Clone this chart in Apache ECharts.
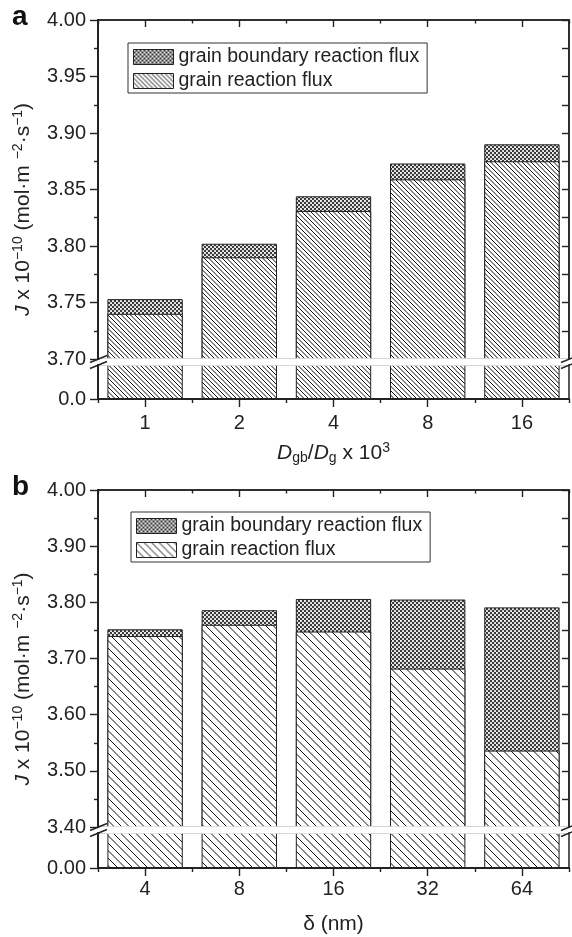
<!DOCTYPE html>
<html><head><meta charset="utf-8">
<script src="https://cdn.jsdelivr.net/npm/echarts@6/dist/echarts.min.js"></script>
<style>html,body{margin:0;padding:0;background:#fff}#c{width:572px;height:937px}</style>
</head><body><div id="c"></div>
<script>
// ---------- data ----------
const catsA = ['1', '2', '4', '8', '16'];
const grainA = [3.740, 3.790, 3.831, 3.859, 3.875];
const totalA = [3.753, 3.802, 3.844, 3.873, 3.890];
const catsB = ['4', '8', '16', '32', '64'];
const grainB = [3.740, 3.760, 3.748, 3.682, 3.536];
const totalB = [3.752, 3.786, 3.806, 3.805, 3.791];
const yRangeA = [3.70, 4.00, 0.05];
const yRangeB = [3.40, 4.00, 0.10];
const nameGB = 'grain boundary reaction flux';
const nameG = 'grain reaction flux';

// ---------- layout ----------
const FONT = 'Liberation Sans, Arial, Helvetica, sans-serif';
const INK = '#222';
const L = 98, W = 471;
const GA_UP = {top: 20, height: 339}, GA_LO = {top: 365, height: 34};
const GB_UP = {top: 490, height: 337}, GB_LO = {top: 833, height: 35};

// ---------- patterns ----------
function hatch(period, lw) {
  const n = period * 2;
  const c = document.createElement('canvas');
  c.width = n; c.height = n;
  const g = c.getContext('2d');
  g.fillStyle = '#fff'; g.fillRect(0, 0, n, n);
  g.strokeStyle = '#111'; g.lineWidth = lw;
  for (let k = -n; k <= n; k += period) {
    g.beginPath(); g.moveTo(k, 0); g.lineTo(k + n, n); g.stroke();
  }
  return {image: c, repeat: 'repeat'};
}
function cross(s) {
  const c = document.createElement('canvas');
  c.width = s; c.height = s;
  const g = c.getContext('2d');
  g.fillStyle = '#3a3a3a'; g.fillRect(0, 0, s, s);
  g.fillStyle = '#fff';
  g.beginPath(); g.arc(s / 4, s / 4, s / 3.8, 0, Math.PI * 2); g.fill();
  g.beginPath(); g.arc(3 * s / 4, 3 * s / 4, s / 3.8, 0, Math.PI * 2); g.fill();
  return {image: c, repeat: 'repeat'};
}
const hatchA = hatch(4.5, 1);
const hatchB = hatch(7.5, 1);
const crossA = cross(4);
const crossB = cross(4);

// ---------- axes helpers ----------
const tickStyle = {color: INK, width: 1.4};
function grid(g) { return {left: L, width: W, top: g.top, height: g.height, show: true, borderColor: INK, borderWidth: 1.5, backgroundColor: 'transparent'}; }
function topCenter(gi, cats) {
  return {gridIndex: gi, type: 'category', data: cats, position: 'top',
    axisLine: {show: true, lineStyle: {color: INK, width: 1.5}},
    axisTick: {show: true, inside: true, alignWithLabel: true, length: 7, lineStyle: tickStyle},
    axisLabel: {show: false}, splitLine: {show: false}};
}
function topBound(gi, cats) {
  return {gridIndex: gi, type: 'category', data: cats, position: 'top',
    axisLine: {show: false},
    axisTick: {show: true, inside: true, alignWithLabel: false, length: 3.5, lineStyle: tickStyle},
    axisLabel: {show: false}, splitLine: {show: false}};
}
function bottomCenter(gi, cats, name, gap, margin, rich) {
  return {gridIndex: gi, type: 'category', data: cats, position: 'bottom',
    axisLine: {show: true, lineStyle: {color: INK, width: 2}},
    axisTick: {show: true, inside: false, alignWithLabel: true, length: 8, lineStyle: tickStyle},
    axisLabel: {show: true, fontSize: 20, color: INK, fontFamily: FONT, margin: margin},
    name: name, nameLocation: 'middle', nameGap: gap,
    nameTextStyle: {fontSize: 21, color: INK, fontFamily: FONT, lineHeight: 24, rich: rich},
    splitLine: {show: false}};
}
function bottomBound(gi, cats) {
  return {gridIndex: gi, type: 'category', data: cats, position: 'bottom',
    axisLine: {show: false},
    axisTick: {show: true, inside: false, alignWithLabel: false, length: 4, lineStyle: tickStyle},
    axisLabel: {show: false}, splitLine: {show: false}};
}
function leftUpper(gi, r, dec) {
  return {gridIndex: gi, type: 'value', position: 'left', min: r[0], max: r[1], interval: r[2],
    axisLine: {show: true, lineStyle: {color: INK, width: 2}},
    axisTick: {show: true, inside: false, length: 8, lineStyle: tickStyle},
    minorTick: {show: true, splitNumber: 2, length: 4, lineStyle: tickStyle},
    axisLabel: {show: true, fontSize: 20, color: INK, fontFamily: FONT, margin: 12, formatter: v => v.toFixed(dec)},
    splitLine: {show: false}, minorSplitLine: {show: false}};
}
function rightUpper(gi, r) {
  return {gridIndex: gi, type: 'value', position: 'right', min: r[0], max: r[1], interval: r[2],
    axisLine: {show: true, lineStyle: {color: INK, width: 1.5}},
    axisTick: {show: true, inside: true, length: 7, lineStyle: tickStyle},
    minorTick: {show: true, splitNumber: 2, length: 7, lineStyle: tickStyle},
    axisLabel: {show: false}, splitLine: {show: false}, minorSplitLine: {show: false}};
}
function leftLower(gi, dec) {
  return {gridIndex: gi, type: 'value', position: 'left', min: 0, max: 1, interval: 1,
    axisLine: {show: true, lineStyle: {color: INK, width: 2}},
    axisTick: {show: true, inside: false, length: 8, customValues: [0], lineStyle: tickStyle},
    axisLabel: {show: true, fontSize: 20, color: INK, fontFamily: FONT, margin: 12, customValues: [0], formatter: v => v.toFixed(dec)},
    splitLine: {show: false}};
}
function bar(name, xi, yi, data, color) {
  return {type: 'bar', name: name, xAxisIndex: xi, yAxisIndex: yi, data: data, barWidth: '80%', barGap: '-100%',
    itemStyle: {color: color, borderColor: INK, borderWidth: 1}, emphasis: {disabled: true}, animation: false, clip: true};
}
function legend(left, top, cross, hatch) {
  return {left: left, top: top, orient: 'vertical', itemWidth: 40, itemHeight: 15, itemGap: 4,
    padding: [4, 8, 2, 5], borderColor: '#333', borderWidth: 1, selectedMode: false,
    textStyle: {fontSize: 19.5, color: INK, fontFamily: FONT, lineHeight: 20},
    data: [
      {name: nameGB, icon: 'rect', itemStyle: {color: cross, borderColor: INK, borderWidth: 1}},
      {name: nameG, icon: 'rect', itemStyle: {color: hatch, borderColor: INK, borderWidth: 1}}
    ]};
}

const richX = {i: {fontStyle: 'italic', fontSize: 21, fontFamily: FONT, color: INK},
  sub: {fontSize: 14, verticalAlign: 'bottom', fontFamily: FONT, color: INK, lineHeight: 14},
  sup: {fontSize: 14, verticalAlign: 'top', fontFamily: FONT, color: INK, lineHeight: 14}};

const option = {
  animation: false,
  backgroundColor: '#fff',
  grid: [grid(GA_UP), grid(GA_LO), grid(GB_UP), grid(GB_LO)],
  xAxis: [
    topCenter(0, catsA), topBound(0, catsA),
    bottomCenter(1, catsA, '{i|D}{sub|gb}/{i|D}{sub|g} x 10{sup|3}', 42, 14, richX), bottomBound(1, catsA),
    topCenter(2, catsB), topBound(2, catsB),
    bottomCenter(3, catsB, 'δ (nm)', 44, 11, richX), bottomBound(3, catsB)
  ],
  yAxis: [
    leftUpper(0, yRangeA, 2), rightUpper(0, yRangeA), leftLower(1, 1),
    leftUpper(2, yRangeB, 2), rightUpper(2, yRangeB), leftLower(3, 2)
  ],
  legend: [legend(128, 43, crossA, hatchA), legend(131, 512, crossB, hatchB)],
  series: [
    bar(nameGB, 0, 0, totalA, crossA),
    bar(nameG, 0, 0, grainA, hatchA),
    bar(nameG, 2, 2, grainA, hatchA),
    bar(nameGB, 4, 3, totalB, crossB),
    bar(nameG, 4, 3, grainB, hatchB),
    bar(nameG, 6, 5, grainB, hatchB)
  ]
};

const chart = echarts.init(document.getElementById('c'), null, {renderer: 'canvas'});
chart.setOption(option);

// ---------- axis breaks, titles, panel letters ----------
function breakGraphics(upYIdx, loYIdx, minVal) {
  const yTop = chart.convertToPixel({yAxisIndex: upYIdx}, minVal);
  const yBot = chart.convertToPixel({yAxisIndex: loYIdx}, 1);
  const R = L + W;
  const els = [
    {type: 'rect', z: 100, shape: {x: L + 1.2, y: yTop - 0.8, width: W - 2, height: yBot - yTop + 1.6}, style: {fill: '#fff'}},
    {type: 'rect', z: 100, shape: {x: L - 1.5, y: yTop + 1.5, width: 3, height: yBot - yTop - 3}, style: {fill: '#fff'}},
    {type: 'rect', z: 100, shape: {x: R - 1.5, y: yTop + 1.5, width: 3, height: yBot - yTop - 3}, style: {fill: '#fff'}}
  ];
  [L, R].forEach(x => {
    [yTop, yBot].forEach(y => {
      els.push({type: 'line', z: 101, shape: {x1: x - 8, y1: y + 3.5, x2: x + 9, y2: y - 3.5}, style: {stroke: INK, lineWidth: 1.4}});
    });
  });
  return els;
}
const richY = {
  i: {fontStyle: 'italic', fontSize: 21, fontFamily: FONT, fill: INK},
  sup: {fontSize: 14, verticalAlign: 'top', fontFamily: FONT, fill: INK, lineHeight: 14}
};
function yTitle(cy) {
  return {type: 'text', z: 50, x: 23, y: cy, rotation: Math.PI / 2,
    style: {text: '{i|J} x 10{sup|−10} (mol·m {sup|−2}·s{sup|−1})', rich: richY, fontSize: 21, fontFamily: FONT,
      fill: INK, align: 'center', verticalAlign: 'middle', lineHeight: 24}};
}
function letter(t, y) {
  return {type: 'text', z: 50, x: 12, y: y, style: {text: t, fontSize: 28, fontWeight: 'bold', fontFamily: FONT, fill: '#111', align: 'left', verticalAlign: 'middle'}};
}
const aTop = chart.convertToPixel({yAxisIndex: 0}, yRangeA[1]);
const aBot = chart.convertToPixel({yAxisIndex: 2}, 0);
const bTop = chart.convertToPixel({yAxisIndex: 3}, yRangeB[1]);
const bBot = chart.convertToPixel({yAxisIndex: 5}, 0);
chart.setOption({
  graphic: [].concat(
    breakGraphics(0, 2, yRangeA[0]),
    breakGraphics(3, 5, yRangeB[0]),
    [yTitle((aTop + aBot) / 2), yTitle((bTop + bBot) / 2), letter('a', aTop - 3), letter('b', bTop - 3)]
  )
});
</script>
</body></html>
